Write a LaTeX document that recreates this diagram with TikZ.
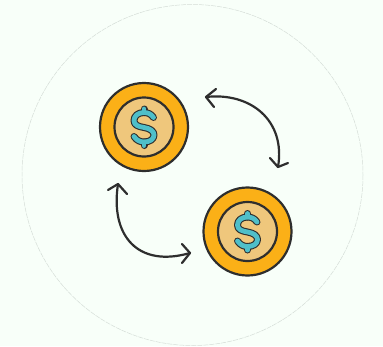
\documentclass[tikz,border=0pt]{standalone}
\definecolor{bgc}{HTML}{F8FFF9}
\definecolor{ringc}{HTML}{D5DDD7}
\definecolor{inkc}{HTML}{2E2E2E}
\definecolor{goldc}{HTML}{FBB017}
\definecolor{sandc}{HTML}{EFC77C}
\definecolor{tealc}{HTML}{4FBFC9}
\tikzset{
  outercoin/.style={circle,draw=inkc,fill=goldc,line width=2.2pt,minimum size=88pt,inner sep=0pt},
  innercoin/.style={circle,draw=inkc,fill=sandc,line width=2.2pt,minimum size=59pt,inner sep=0pt},
  swap/.style={draw=inkc,line width=2.2pt,line cap=round,line join=round},
  dollar/.pic={
    \draw[inkc,line width=7pt,line cap=round,line join=round]
        (9.5,-9.5) .. controls (7,-13.5) and (3,-14.5) .. (0,-14.5)
        .. controls (-6,-14.5) and (-10,-11) .. (-10,-6.5)
        .. controls (-10,-2) and (-6,-0.5) .. (0,0.5)
        .. controls (6,1.5) and (10,4) .. (10,8)
        .. controls (10,12) and (6,15) .. (0,15)
        .. controls (-3,15) and (-7,14) .. (-10,9.5);
    \draw[inkc,line width=7pt,line cap=round] (0,-18) -- (0,-14.5) (0,15) -- (0,18.5);
    \draw[tealc,line width=4.8pt,line cap=round,line join=round]
        (9.5,-9.5) .. controls (7,-13.5) and (3,-14.5) .. (0,-14.5)
        .. controls (-6,-14.5) and (-10,-11) .. (-10,-6.5)
        .. controls (-10,-2) and (-6,-0.5) .. (0,0.5)
        .. controls (6,1.5) and (10,4) .. (10,8)
        .. controls (10,12) and (6,15) .. (0,15)
        .. controls (-3,15) and (-7,14) .. (-10,9.5);
    \draw[tealc,line width=4.8pt,line cap=round] (0,-18) -- (0,-14.5) (0,15) -- (0,18.5);
  }
}
\begin{document}
\begin{tikzpicture}[x=1pt,y=-1pt]
\useasboundingbox (0,0) rectangle (383,346);
\fill[bgc] (0,0) rectangle (383,346);
\draw[ringc,line width=0.5pt,dash pattern=on 5pt off 1pt] (192.5,175) circle (170.5);
% coins
\node[outercoin] (coinA) at (144,127) {};
\node[innercoin] (coinAi) at (coinA) {};
\pic at (coinA) {dollar};
\node[outercoin] (coinB) at (247.5,231.5) {};
\node[innercoin] (coinBi) at (coinB) {};
\pic at (coinB) {dollar};
% upper arrow
\coordinate (a1) at (206,97);
\coordinate (a1u) at (216,89);
\coordinate (a1d) at (214,107);
\coordinate (a2) at (278,167);
\coordinate (a2l) at (270,158);
\coordinate (a2r) at (288,163);
\draw[swap] (a1) .. controls (250,92) and (286,120) .. (a2);
\draw[swap] (a1u) -- (a1) -- (a1d);
\draw[swap] (a2l) -- (a2) -- (a2r);
% lower arrow
\coordinate (b1) at (118,184);
\coordinate (b1l) at (108,190);
\coordinate (b1r) at (127,194);
\coordinate (b2) at (190,253);
\coordinate (b2u) at (182,244);
\coordinate (b2d) at (182,263);
\draw[swap] (b1) .. controls (110,236) and (138,268) .. (b2);
\draw[swap] (b1l) -- (b1) -- (b1r);
\draw[swap] (b2u) -- (b2) -- (b2d);
\end{tikzpicture}
\end{document}
